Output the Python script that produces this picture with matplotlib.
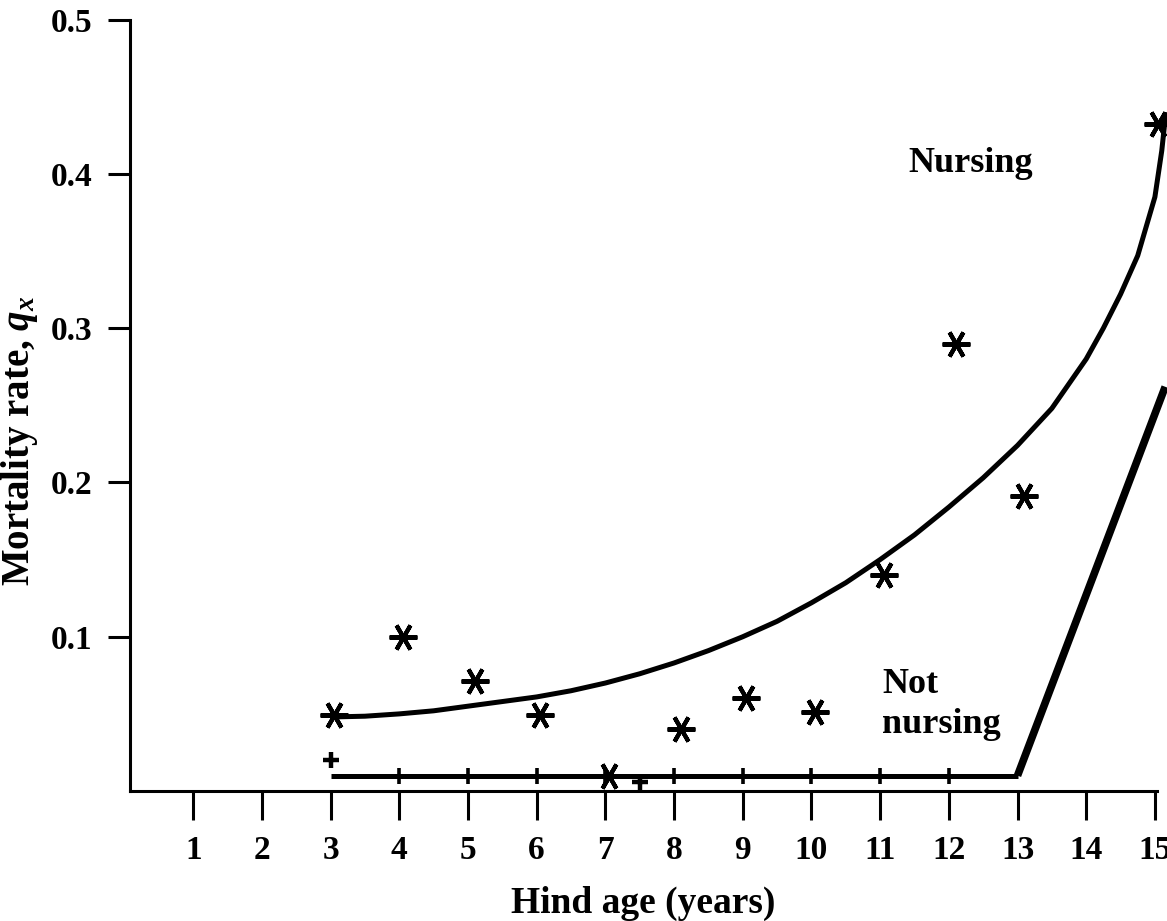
import numpy as np
import matplotlib.pyplot as plt

plt.rcParams['font.family'] = ['Liberation Serif', 'DejaVu Serif']
plt.rcParams['font.weight'] = 'bold'
plt.rcParams['mathtext.fontset'] = 'custom'
plt.rcParams['mathtext.rm'] = 'Liberation Serif:bold'
plt.rcParams['mathtext.it'] = 'Liberation Serif:italic:bold'
plt.rcParams['mathtext.bf'] = 'Liberation Serif:bold'

# observed mortality, nursing hinds
nurs_age = [3.05, 4.05, 5.1, 6.05, 7.05, 8.1, 9.05, 10.05, 11.05, 12.1, 13.1, 15.05]
nurs_q = [0.049, 0.100, 0.071, 0.049, 0.010, 0.040, 0.060, 0.051, 0.140, 0.290, 0.191, 0.432]

# fitted curve, nursing
curve_age = [3.0, 3.5, 4.0, 4.5, 5.0, 5.5, 6.0, 6.5, 7.0, 7.5, 8.0, 8.5, 9.0, 9.5,
             10.0, 10.5, 11.0, 11.5, 12.0, 12.5, 13.0, 13.5, 14.0, 14.25, 14.5,
             14.75, 15.0, 15.1, 15.16]
curve_q = [0.048, 0.0485, 0.050, 0.052, 0.055, 0.058, 0.061, 0.065, 0.070, 0.076,
           0.083, 0.091, 0.100, 0.110, 0.122, 0.135, 0.150, 0.166, 0.184, 0.203,
           0.224, 0.248, 0.280, 0.300, 0.322, 0.347, 0.385, 0.415, 0.44]

# not nursing
notn_age = [4, 5, 6, 7, 8, 9, 10, 11, 12]
notn_q = [0.010] * 9
notn_extra_age = [3, 7.5]
notn_extra_q = [0.020, 0.006]
line_age = [3, 4, 5, 6, 7, 8, 9, 10, 11, 12, 13]
line_q = [0.010] * 11
rise_age = [13, 15.15]
rise_q = [0.010, 0.262]

fig = plt.figure(figsize=(11.67, 9.21), dpi=100)
ax = fig.add_axes([0.1114, 0.1411, 0.8800, 0.8377])

ax.plot(curve_age, curve_q, color='black', lw=3.6, clip_on=False,
        solid_capstyle='butt', solid_joinstyle='round')
ax.plot(line_age, line_q, color='black', lw=3.6, solid_capstyle='butt')
ax.plot(rise_age, rise_q, color='black', lw=5.5, clip_on=False, solid_capstyle='butt')
ax.plot(notn_age, notn_q, linestyle='none', marker='+', ms=11, mew=2.6, color='black')
ax.plot(notn_extra_age, notn_extra_q, linestyle='none', marker='+', ms=11, mew=3.2,
        color='black', clip_on=False)
ax.plot(nurs_age, nurs_q, linestyle='none', marker=(6, 2, 90), ms=20, mew=3,
        color='black', clip_on=False)

ax.text(11.41, 0.401, 'Nursing', fontsize=26, fontweight='bold', ha='left', va='baseline')
ax.text(11.03, 0.0635, 'Not', fontsize=26, fontweight='bold', ha='left', va='baseline')
ax.text(11.03, 0.0376, 'nursing', fontsize=26, fontweight='bold', ha='left', va='baseline')

ax.set_xlim(0.08, 15.03)
ax.set_ylim(0, 0.5)
ax.set_xticks(range(1, 16))
ax.set_yticks([0.1, 0.2, 0.3, 0.4, 0.5])
ax.set_yticklabels(['0.1', '0.2', '0.3', '0.4', '0.5'])

for s in ['top', 'right']:
    ax.spines[s].set_visible(False)
for s in ['left', 'bottom']:
    ax.spines[s].set_linewidth(2.2)

ax.tick_params(axis='x', direction='out', length=21, width=2.2, pad=11, labelsize=24)
ax.tick_params(axis='y', direction='out', length=16, width=2.2, pad=11, labelsize=24)
for lab in ax.get_xticklabels() + ax.get_yticklabels():
    lab.set_fontweight('bold')

ax.set_xlabel('Hind age (years)', fontsize=27, fontweight='bold', labelpad=14)
ax.set_ylabel(r'Mortality rate, $q_x$', fontsize=28, fontweight='bold')
ax.yaxis.set_label_coords(-0.088, 0.454)

fig.savefig('out.png', dpi=100)
